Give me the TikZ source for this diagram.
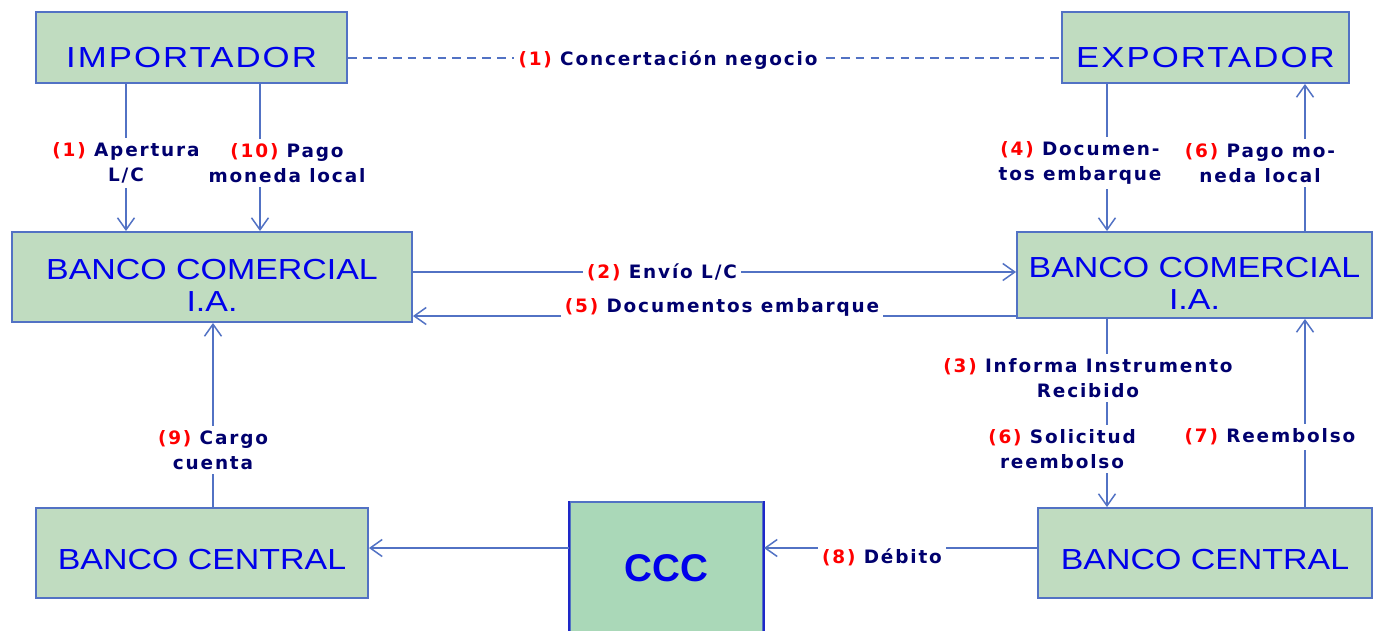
\documentclass[tikz,border=0pt]{standalone}
\usepackage{fontspec}
\usetikzlibrary{arrows.meta}

\newfontfamily\boxfont[FakeStretch=1.17]{Liberation Sans}
\newfontfamily\widefont[FakeStretch=1.2,LetterSpace=7]{Liberation Sans}
\newfontfamily\cccfont{Liberation Sans}
\newfontfamily\tagfont[LetterSpace=10]{DejaVu Sans}

\definecolor{boxgreen}{RGB}{192,220,192}
\definecolor{cccgreen}{RGB}{170,216,184}
\definecolor{edgeblue}{RGB}{82,114,196}
\definecolor{darkedge}{RGB}{30,40,200}
\definecolor{textblue}{RGB}{0,0,235}
\definecolor{tagnavy}{RGB}{0,0,110}
\definecolor{tagred}{RGB}{255,0,0}

\newcommand{\stepno}[1]{\textcolor{tagred}{#1}}

\begin{document}
\begin{tikzpicture}[x=0.02cm,y=-0.02cm,
    box/.style={draw=edgeblue,line width=1.1pt,fill=boxgreen,text=textblue,align=center,
      inner sep=0pt,font=\boxfont\fontsize{16.5}{18}\selectfont},
    topbox/.style={box,font=\widefont\fontsize{16.5}{18}\selectfont,
      text height=23pt,text depth=0pt,minimum height=1.42cm},
    twoline/.style={text height=39pt,text depth=0pt},
    oneline/.style={text height=18.6pt,text depth=0pt},
    conn/.style={draw=edgeblue,line width=0.85pt,-{Straight Barb[length=2.4mm,width=3.4mm]}},
    plain/.style={draw=edgeblue,line width=0.85pt},
    tag/.style={fill=white,text=tagnavy,align=center,inner sep=2.5pt,
      font=\tagfont\bfseries\fontsize{10.5}{14}\selectfont}]
  \useasboundingbox (0,0) rectangle (1374,630);

  % boxes
  \node[topbox,minimum width=6.22cm] (imp) at (191.5,47.5) {IMPORTADOR};
  \node[topbox,minimum width=5.74cm] (exp) at (1205.5,47.5) {EXPORTADOR};
  \node[box,twoline,minimum width=8cm,minimum height=1.8cm] (bcl) at (212,277) {BANCO COMERCIAL\\I.A.};
  \node[box,twoline,minimum width=7.1cm,minimum height=1.72cm] (bcr) at (1194.5,275) {BANCO COMERCIAL\\I.A.};
  \node[box,oneline,minimum width=6.64cm,minimum height=1.8cm] (bcenl) at (202,553) {BANCO CENTRAL};
  \node[box,oneline,minimum width=6.68cm,minimum height=1.8cm] (bcenr) at (1205,553) {BANCO CENTRAL};
  \node[box,fill=cccgreen,minimum width=3.86cm,minimum height=2.64cm,
    font=\cccfont\bfseries\fontsize{22}{24}\selectfont] (ccc) at (666.5,568) {CCC};
  \draw[darkedge,line width=1.6pt] (ccc.north west) -- (ccc.south west);
  \draw[darkedge,line width=1.6pt] (ccc.north east) -- (ccc.south east);

  % line positions
  \coordinate (xa) at (126,0);
  \coordinate (xb) at (260,0);
  \coordinate (xc) at (1107,0);
  \coordinate (xd) at (1305,0);
  \coordinate (xe) at (213,0);
  \coordinate (ya) at (0,58);
  \coordinate (yb) at (0,272);
  \coordinate (yc) at (0,316);
  \coordinate (yd) at (0,548);

  % connectors
  \draw[plain,dash pattern=on 5pt off 3.5pt] (imp.east |- ya) -- (exp.west |- ya);
  \draw[conn] (imp.south -| xa) -- (bcl.north -| xa);
  \draw[conn] (imp.south -| xb) -- (bcl.north -| xb);
  \draw[conn] (exp.south -| xc) -- (bcr.north -| xc);
  \draw[conn] (bcr.north -| xd) -- (exp.south -| xd);
  \draw[conn] (bcl.east |- yb) -- (bcr.west |- yb);
  \draw[conn] (bcr.west |- yc) -- (bcl.east |- yc);
  \draw[conn] (bcr.south -| xc) -- (bcenr.north -| xc);
  \draw[conn] (bcenr.north -| xd) -- (bcr.south -| xd);
  \draw[conn] (bcenr.west |- yd) -- (ccc.east |- yd);
  \draw[conn] (ccc.west |- yd) -- (bcenl.east |- yd);
  \draw[conn] (bcenl.north -| xe) -- (bcl.south -| xe);

  % labels
  \node[tag] (t1) at (668,60) {\stepno{(1)} Concertación negocio};
  \node[tag] (t1b) at (126,163) {\stepno{(1)} Apertura\\L/C};
  \node[tag] (t10) at (287,163) {\stepno{(10)} Pago\\moneda local};
  \node[tag] (t4) at (1080,163) {\stepno{(4)} Documen-\\tos embarque};
  \node[tag] (t6a) at (1260,163) {\stepno{(6)} Pago mo-\\neda local};
  \node[tag] (t2) at (662,272) {\stepno{(2)} Envío L/C};
  \node[tag] (t5) at (722,307) {\stepno{(5)} Documentos embarque};
  \node[tag] (t3) at (1088,378) {\stepno{(3)} Informa Instrumento\\Recibido};
  \node[tag] (t6b) at (1062,449) {\stepno{(6)} Solicitud\\reembolso};
  \node[tag] (t7) at (1270,437) {\stepno{(7)} Reembolso};
  \node[tag,inner ysep=4pt] (t8) at (882,557) {\stepno{(8)} Débito};
  \node[tag] (t9) at (213,450) {\stepno{(9)} Cargo\\cuenta};
\end{tikzpicture}
\end{document}
